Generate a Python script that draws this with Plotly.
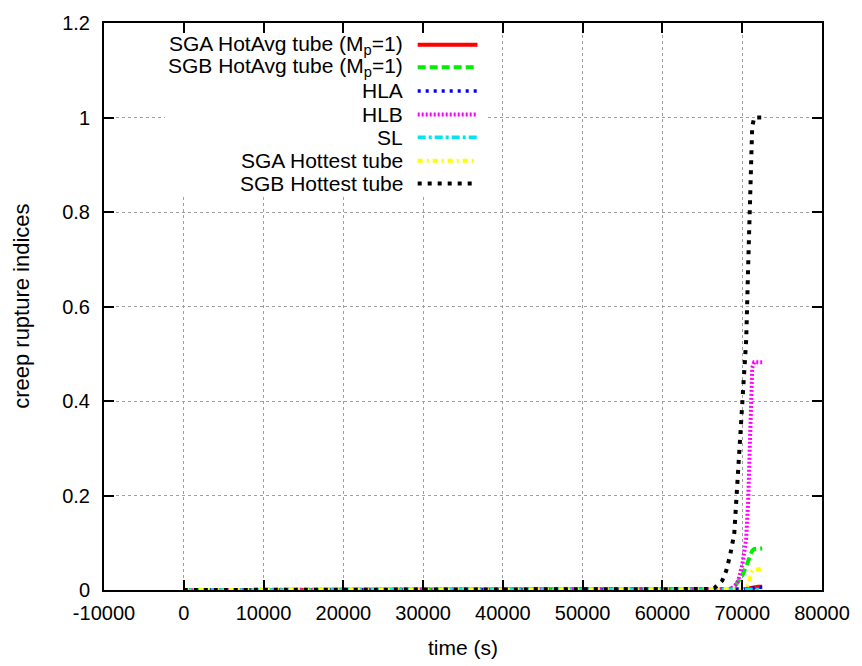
import plotly.graph_objects as go

# Simulation output times (s)
time_s = [0, 10000, 20000, 30000, 40000, 50000, 60000, 65000, 65500, 66000,
          66500, 67000, 67500, 68000, 68500, 69000, 69250, 69500, 69750, 70000,
          70250, 70500, 70750, 71000, 71250, 71500, 72000, 72500]

# Creep rupture indices per component
sga_hotavg = [0, 0, 0, 0, 0, 0, 0, 0, 0, 0,
              0, 0, 0, 0, 0, 0, 0, 0, 0, 0.001,
              0.001, 0.002, 0.003, 0.004, 0.005, 0.006, 0.007, 0.007]
sgb_hotavg = [0, 0, 0, 0, 0, 0, 0, 0, 0, 0,
              0, 0, 0, 0.001, 0.003, 0.008, 0.012, 0.018, 0.024, 0.030,
              0.040, 0.050, 0.062, 0.075, 0.083, 0.087, 0.088, 0.088]
hla = [0, 0, 0, 0, 0, 0, 0, 0, 0, 0,
       0, 0, 0, 0, 0, 0, 0, 0, 0, 0,
       0, 0.001, 0.002, 0.003, 0.004, 0.005, 0.006, 0.006]
hlb = [0, 0, 0, 0, 0, 0, 0, 0, 0, 0,
       0, 0, 0, 0, 0.002, 0.008, 0.012, 0.020, 0.035, 0.053,
       0.080, 0.110, 0.190, 0.350, 0.470, 0.482, 0.482, 0.482]
sl = [0, 0, 0, 0, 0, 0, 0, 0, 0, 0,
      0, 0, 0, 0, 0, 0, 0, 0, 0, 0,
      0, 0, 0, 0, 0, 0.001, 0.001, 0.001]
sga_hottest = [0, 0, 0, 0, 0, 0, 0, 0, 0, 0,
               0, 0, 0, 0, 0, 0, 0, 0.001, 0.001, 0.002,
               0.003, 0.005, 0.012, 0.030, 0.042, 0.043, 0.044, 0.044]
sgb_hottest = [0, 0, 0, 0, 0, 0, 0, 0, 0.001, 0.002,
               0.004, 0.011, 0.020, 0.041, 0.075, 0.119, 0.185, 0.240, 0.310, 0.370,
               0.460, 0.530, 0.690, 0.848, 0.980, 1.0, 1.0, 1.0]

series_names = ["SGA HotAvg tube (M<sub>p</sub>=1)", "SGB HotAvg tube (M<sub>p</sub>=1)",
                "HLA", "HLB", "SL", "SGA Hottest tube", "SGB Hottest tube"]
series_values = [sga_hotavg, sgb_hotavg, hla, hlb, sl, sga_hottest, sgb_hottest]
colors = ["#ff0000", "#00ee00", "#0000ff", "#ff00ff", "#00e5ee", "#ffff00", "#000000"]
dashes = ["solid", "8px,4px", "3px,5px", "2px,2px", "8px,3px,3px,3px",
          "5px,4px,2px,4px", "4px,6px"]
widths = [4, 4, 3.5, 4, 3.5, 4, 4]

x_ticks = [-10000, 0, 10000, 20000, 30000, 40000, 50000, 60000, 70000, 80000]
x_ticktext = ["-10000", "0", "10000", "20000", "30000", "40000", "50000",
              "60000", "70000", "80000"]
y_ticks = [0, 0.2, 0.4, 0.6, 0.8, 1.0, 1.2]
y_ticktext = ["0", "0.2", "0.4", "0.6", "0.8", "1", "1.2"]

FONT = "Liberation Sans, Arial, Helvetica, sans-serif"
W, H = 862, 666
L, R, T, B = 104, 37, 14, 76
PW, PH = W - L - R, H - T - B


def px_x(px):
    return (px - L) / PW


def px_y(py):
    return (H - B - py) / PH


fig = go.Figure()
for name, vals, c, d, w in zip(series_names, series_values, colors, dashes, widths):
    fig.add_trace(go.Scatter(x=time_s, y=vals, mode="lines", name=name,
                             line=dict(color=c, dash=d, width=w),
                             showlegend=False))

# Key box with line samples, text right-aligned to the left of each sample
shapes = [dict(type="rect", xref="paper", yref="paper", layer="above",
               x0=px_x(165), x1=px_x(488), y0=px_y(190), y1=px_y(25),
               fillcolor="white", line=dict(width=0))]
annotations = []
row_y = [36, 59, 83, 107, 130, 154, 177]
for name, c, d, w, ry in zip(series_names, colors, dashes, widths, row_y):
    shapes.append(dict(type="line", xref="paper", yref="paper", layer="above",
                       x0=px_x(419), x1=px_x(479), y0=px_y(ry), y1=px_y(ry),
                       line=dict(color=c, dash=d, width=w)))
    annotations.append(dict(xref="paper", yref="paper", x=px_x(406), y=px_y(ry),
                            xanchor="right", yanchor="middle", showarrow=False,
                            text=name, font=dict(family=FONT, size=21, color="black")))

annotations.append(dict(xref="paper", yref="paper", x=px_x(464), y=px_y(648),
                        xanchor="center", yanchor="middle", showarrow=False,
                        text="time (s)", font=dict(family=FONT, size=21, color="black")))
annotations.append(dict(xref="paper", yref="paper", x=px_x(21), y=px_y(302),
                        xanchor="center", yanchor="middle", showarrow=False, textangle=-90,
                        text="creep rupture indices",
                        font=dict(family=FONT, size=22, color="black")))

axis_common = dict(showline=True, linecolor="black", linewidth=2, mirror="ticks",
                   ticks="inside", ticklen=10, tickwidth=1.5, tickcolor="black",
                   showgrid=True, gridcolor="#a0a0a0", gridwidth=1, griddash="dot",
                   zeroline=False, tickfont=dict(family=FONT, size=20, color="black"))

fig.update_layout(
    width=W, height=H,
    margin=dict(l=L, r=R, t=T, b=B, pad=0),
    paper_bgcolor="white", plot_bgcolor="white",
    xaxis=dict(range=[-10000, 80000], tickvals=x_ticks, ticktext=x_ticktext,
               ticklabelstandoff=4, **axis_common),
    yaxis=dict(range=[0, 1.2], tickvals=y_ticks, ticktext=y_ticktext,
               ticklabelstandoff=8, **axis_common),
    shapes=shapes, annotations=annotations,
)

fig.write_html("out.html")
